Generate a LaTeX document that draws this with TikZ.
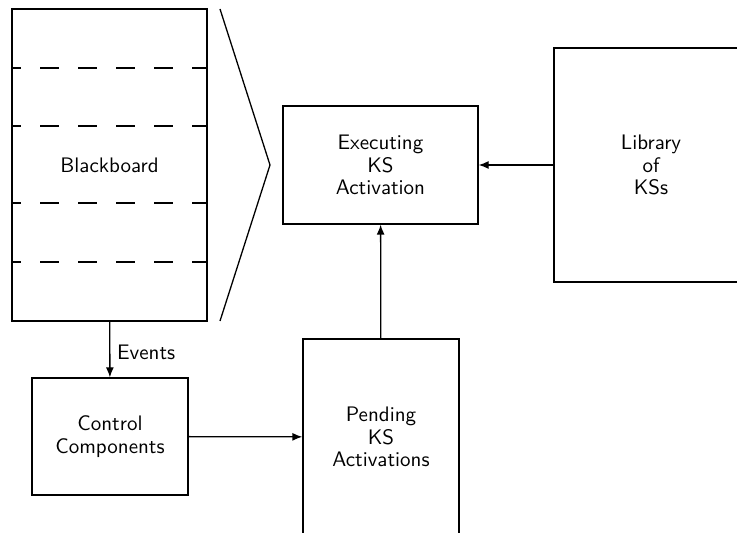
\documentclass[tikz,border=0pt]{standalone}
\usepackage{tikz}
\usetikzlibrary{arrows.meta}

\begin{document}
\begin{tikzpicture}[x=0.5pt,y=-0.5pt,line width=0.65pt,>={Latex[length=5pt,width=4pt]},font=\sffamily\fontsize{10.5}{11.25}\selectfont]
						\tikzstyle{block}=[draw=black,rectangle,inner sep=0pt,align=center]
						\tikzstyle{divider}=[dash pattern=on 9.5pt off 9.5pt,dash phase=4.5pt]
						\path[use as bounding box,clip] (0,0) rectangle (737,533);
						\node[block,minimum width=97.5pt,minimum height=156pt](bb) at (109.5,165) {Blackboard};
						\node[block,minimum width=97.5pt,minimum height=59pt](exec) at (380.5,165) {Executing\\KS\\Activation};
						\node[block,minimum width=97pt,minimum height=117pt](lib) at (651,165) {Library\\of\\KSs};
						\node[block,minimum width=78pt,minimum height=58.5pt](ctrl) at (110,436.5) {Control\\Components};
						\node[block,minimum width=78pt,minimum height=98pt](pend) at (381,437) {Pending\\KS\\Activations};
						\foreach \y in {68,126,203,262}
							\draw[divider](bb.west |- 0,\y) -- (bb.east |- 0,\y);
						\draw(220,9) -- (270,165) -- (220,321);
						\draw[ ->](bb) -- node[right,pos=0.55]{Events}(ctrl);
						\draw[ ->](ctrl) -- (pend);
						\draw[ ->](pend) -- (exec);
						\draw[ ->](lib) -- (exec);
					\end{tikzpicture}
\end{document}
